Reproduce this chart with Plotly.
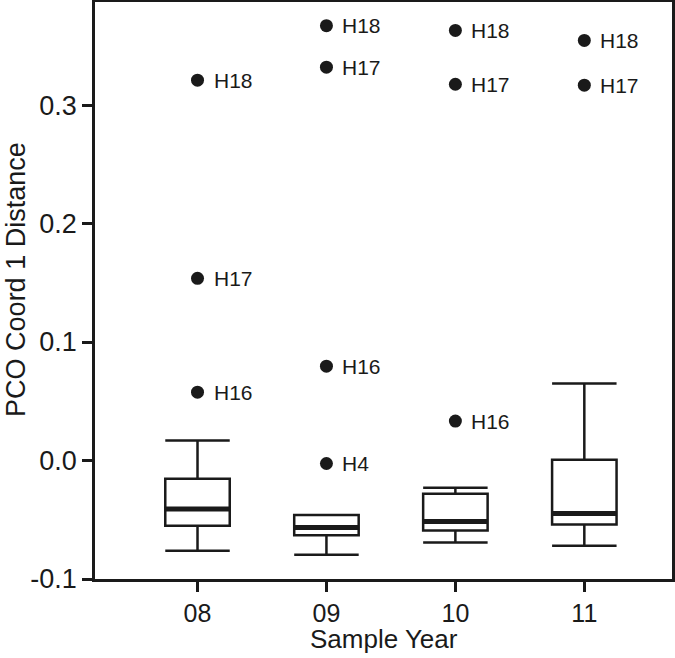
import plotly.graph_objects as go

# ---- data ----
years = ["08", "09", "10", "11"]
x_pos = [1, 2, 3, 4]
q1 = [-0.055, -0.063, -0.059, -0.054]
median = [-0.041, -0.0565, -0.0515, -0.0448]
q3 = [-0.0154, -0.046, -0.028, 0.0006]
lower_whisker = [-0.0762, -0.0796, -0.0692, -0.072]
upper_whisker = [0.017, -0.046, -0.0229, 0.065]

out_year = [1, 1, 1, 2, 2, 2, 2, 3, 3, 3, 4, 4]
out_value = [0.0577, 0.1538, 0.321, -0.0025, 0.0796, 0.332, 0.367,
             0.0333, 0.3176, 0.363, 0.3168, 0.3546]
out_label = ["H16", "H17", "H18", "H4", "H16", "H17", "H18",
             "H16", "H17", "H18", "H17", "H18"]

y_ticks = [-0.1, 0.0, 0.1, 0.2, 0.3]
y_ticktext = ["-0.1", "0.0", "0.1", "0.2", "0.3"]

BOX_W = 0.5
FONT = "Liberation Sans, Arial, Helvetica, sans-serif"
INK = "#1a1a1a"

fig = go.Figure()

fig.add_trace(go.Box(
    x=x_pos, q1=q1, median=median, q3=q3,
    lowerfence=lower_whisker, upperfence=upper_whisker,
    width=BOX_W, whiskerwidth=1,
    fillcolor="white", line=dict(color=INK, width=2.5),
    boxpoints=False, showlegend=False, hoverinfo="skip",
))

# thick median bars
mx, my = [], []
for xi, m in zip(x_pos, median):
    mx += [xi - BOX_W / 2, xi + BOX_W / 2, None]
    my += [m, m, None]
fig.add_trace(go.Scatter(x=mx, y=my, mode="lines",
                         line=dict(color=INK, width=5),
                         showlegend=False, hoverinfo="skip"))

# outliers
fig.add_trace(go.Scatter(x=out_year, y=out_value, mode="markers",
                         marker=dict(color=INK, size=13),
                         showlegend=False))
for xv, yv, lab in zip(out_year, out_value, out_label):
    fig.add_annotation(x=xv, y=yv, text=lab, showarrow=False,
                       xanchor="left", yanchor="middle", xshift=14,
                       font=dict(size=21, color=INK, family=FONT))

# axis titles
fig.add_annotation(text="Sample Year", xref="paper", yref="paper",
                   x=0.5, y=-0.104, xanchor="center", yanchor="middle",
                   showarrow=False, font=dict(size=26, color=INK, family=FONT))
fig.add_annotation(text="PCO Coord 1 Distance", xref="paper", yref="paper",
                   x=-0.137, y=0.52, xanchor="center", yanchor="middle",
                   textangle=-90, showarrow=False,
                   font=dict(size=27, color=INK, family=FONT))

axis_common = dict(showline=True, mirror=True, linecolor=INK, linewidth=2.5,
                   ticks="outside", ticklen=10, tickwidth=2.5, tickcolor=INK,
                   showgrid=False, zeroline=False, automargin=False)

fig.update_layout(
    width=675, height=658,
    margin=dict(l=95, r=3, t=2, b=79),
    paper_bgcolor="white", plot_bgcolor="white",
    font=dict(family=FONT, color=INK),
    xaxis=dict(range=[0.205, 4.68], tickvals=x_pos, ticktext=years,
               tickfont=dict(size=25, color=INK, family=FONT),
               **axis_common),
    yaxis=dict(range=[-0.1, 0.387], tickvals=y_ticks, ticktext=y_ticktext,
               tickfont=dict(size=27, color=INK, family=FONT),
               **axis_common),
)

fig.write_html("out.html", config={"displayModeBar": False},
               post_script="document.body.style.margin='0';document.body.style.padding='0';")
